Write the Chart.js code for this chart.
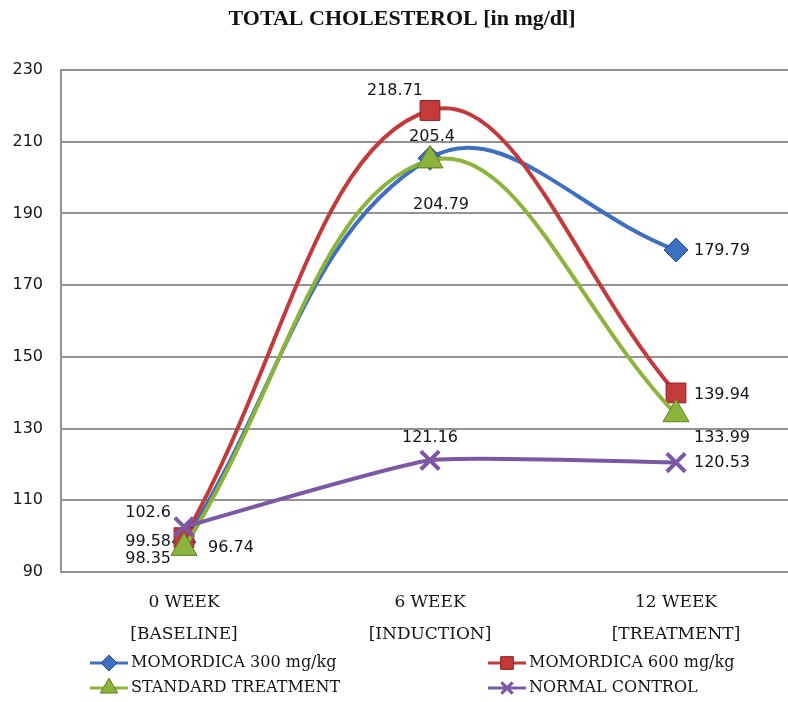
<!DOCTYPE html>
<html>
<head>
<meta charset="utf-8">
<title>Total Cholesterol</title>
<script src="https://cdn.jsdelivr.net/npm/chart.js@4.4.1/dist/chart.umd.min.js"></script>
<style>
  html, body { margin: 0; padding: 0; background: #ffffff; overflow: hidden; }
  canvas { display: block; }
</style>
</head>
<body>
<canvas id="chart" width="816" height="702"></canvas>
<script>
// Study time points (two-line axis labels)
const categories = [
  ['0 WEEK', '[BASELINE]'],
  ['6 WEEK', '[INDUCTION]'],
  ['12 WEEK', '[TREATMENT]']
];

// Total cholesterol, mg/dl
const momordica300 = [98.35, 205.4, 179.79];
const momordica600 = [99.58, 218.71, 139.94];
const standardTreatment = [96.74, 204.79, 133.99];
const normalControl = [102.6, 121.16, 120.53];

const seriesNames = ['MOMORDICA 300 mg/kg', 'MOMORDICA 600 mg/kg', 'STANDARD TREATMENT', 'NORMAL CONTROL'];

// Value axis range
const yMin = 90;
const yMax = 230;
const yStep = 20;

const chartTitle = 'TOTAL CHOLESTEROL [in mg/dl]';

// Where each value label sits relative to its point
const labelPlacement = [
  [{ a: 'right', dx: -13, dy: 17 }, { a: 'center', dx: 2, dy: -21 }, { a: 'left', dx: 18, dy: 1 }],
  [{ a: 'right', dx: -13, dy: 4 }, { a: 'center', dx: -35, dy: -20 }, { a: 'left', dx: 18, dy: 2 }],
  [{ a: 'left', dx: 24, dy: 0 }, { a: 'center', dx: 11, dy: 44 }, { a: 'left', dx: 18, dy: 24 }],
  [{ a: 'right', dx: -13, dy: -14 }, { a: 'center', dx: 0, dy: -22 }, { a: 'left', dx: 18, dy: 0 }]
];

const colors = ['#3e6fc1', '#c23a3a', '#8cb43c', '#7a58a6'];
const darkColors = ['#2a4f8f', '#8e2424', '#5f7f22', '#573d7c'];
const tensions = [0.4, 0.4, 0.4, 0.15];

const valueLabels = {
  id: 'valueLabels',
  afterDatasetsDraw(chart) {
    const ctx = chart.ctx;
    ctx.save();
    ctx.font = '16px "DejaVu Sans", Verdana, sans-serif';
    ctx.fillStyle = '#14141e';
    ctx.textBaseline = 'middle';
    chart.data.datasets.forEach((ds, i) => {
      const meta = chart.getDatasetMeta(i);
      meta.data.forEach((pt, j) => {
        const p = labelPlacement[i][j];
        ctx.textAlign = p.a;
        ctx.fillText(String(ds.data[j]), pt.x + p.dx, pt.y + p.dy);
      });
    });
    ctx.restore();
  }
};

const titleAndLegend = {
  id: 'titleAndLegend',
  afterDraw(chart) {
    const ctx = chart.ctx;
    ctx.save();
    // Title
    ctx.fillStyle = '#111111';
    ctx.font = 'bold 22px "Liberation Serif", "Times New Roman", serif';
    ctx.textAlign = 'center';
    ctx.textBaseline = 'middle';
    ctx.fillText(chartTitle, 402, 19);

    // Legend in two columns
    const cols = [90, 488];
    const rows = [663, 688];
    chart.data.datasets.forEach((ds, i) => {
      const x0 = cols[i % 2];
      const y = rows[Math.floor(i / 2)];
      ctx.strokeStyle = ds.borderColor;
      ctx.lineWidth = 3;
      ctx.beginPath();
      ctx.moveTo(x0, y);
      ctx.lineTo(x0 + 38, y);
      ctx.stroke();
      const r = [8, 9, 10, 8][i];
      ctx.fillStyle = ds.pointBackgroundColor;
      ctx.strokeStyle = i === 3 ? ds.borderColor : ds.pointBorderColor;
      ctx.lineWidth = i === 3 ? 3 : 1;
      Chart.helpers.drawPoint(ctx, { pointStyle: ds.pointStyle, radius: r, rotation: 0, borderWidth: ctx.lineWidth }, x0 + 19, y);
      ctx.fillStyle = '#151515';
      ctx.font = '16px "DejaVu Serif", Georgia, serif';
      ctx.textAlign = 'left';
      ctx.textBaseline = 'middle';
      ctx.fillText(ds.label, x0 + 41, y);
    });
    ctx.restore();
  }
};

function series(i, data, style, radius, order) {
  return {
    label: seriesNames[i],
    data: data,
    borderColor: colors[i],
    backgroundColor: colors[i],
    borderWidth: 4,
    tension: tensions[i],
    pointStyle: style,
    pointRadius: radius,
    pointHoverRadius: radius,
    pointBackgroundColor: colors[i],
    pointBorderColor: i === 3 ? colors[i] : darkColors[i],
    pointBorderWidth: i === 3 ? 4 : 1,
    order: order
  };
}

new Chart(document.getElementById('chart'), {
  type: 'line',
  data: {
    labels: categories,
    datasets: [
      series(0, momordica300, 'rectRot', 12, 3),
      series(1, momordica600, 'rect', 14, 2),
      series(2, standardTreatment, 'triangle', 15, 1),
      series(3, normalControl, 'crossRot', 13, 0)
    ]
  },
  options: {
    responsive: false,
    animation: false,
    devicePixelRatio: 1,
    layout: { padding: { top: 70, left: 0, right: 0, bottom: 0 } },
    plugins: {
      legend: { display: false },
      title: { display: false },
      tooltip: { enabled: false }
    },
    scales: {
      x: {
        offset: true,
        grid: { display: false, drawTicks: false },
        border: { display: false },
        ticks: {
          color: '#151515',
          padding: 15,
          maxRotation: 0,
          font: { family: '"DejaVu Serif", Georgia, serif', size: 17, lineHeight: '32px' }
        },
        afterFit(scale) {
          scale.height = 130;
          scale.paddingLeft = 0;
          scale.paddingRight = 0;
        }
      },
      y: {
        min: yMin,
        max: yMax,
        ticks: {
          stepSize: yStep,
          color: '#151515',
          padding: 18,
          font: { family: '"DejaVu Sans", Verdana, sans-serif', size: 16 }
        },
        grid: { color: '#929292', lineWidth: 2, drawTicks: false },
        border: { display: true, color: '#929292', width: 2 },
        afterFit(scale) {
          scale.width = 61;
          scale.paddingTop = 0;
          scale.paddingBottom = 0;
        }
      }
    }
  },
  plugins: [valueLabels, titleAndLegend]
});
</script>
</body>
</html>
